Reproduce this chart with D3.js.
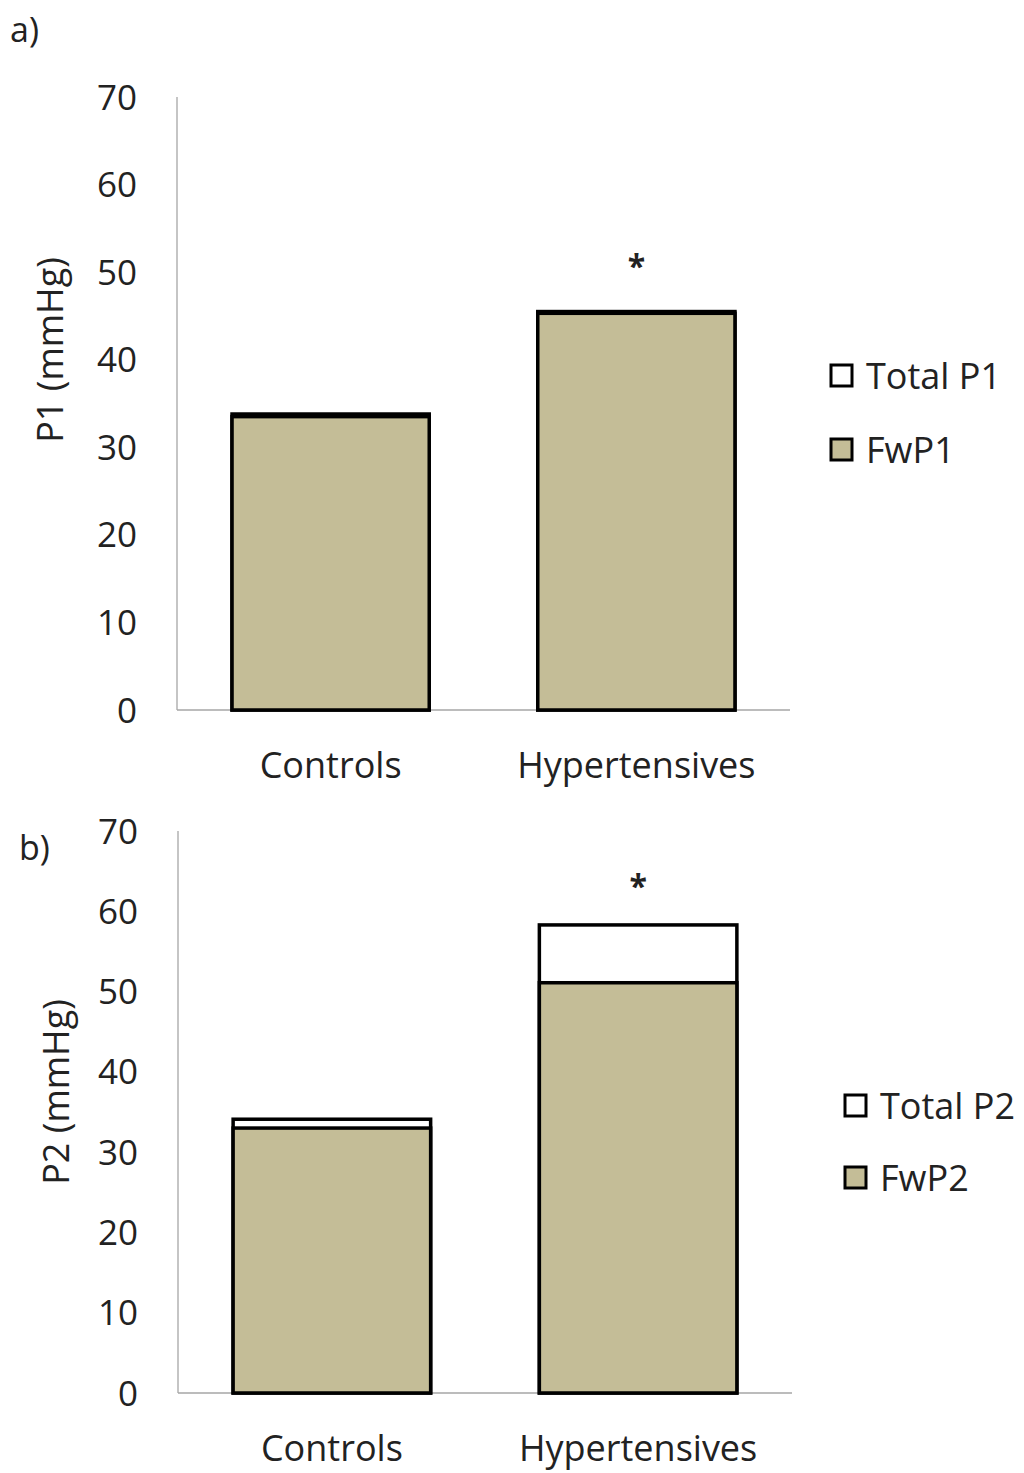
<!DOCTYPE html>
<html>
<head>
<meta charset="utf-8">
<script src="https://cdn.jsdelivr.net/npm/d3@7"></script>
<style>
  html, body { margin: 0; padding: 0; background: #fff; }
  svg text { font-family: "Open Sans", "Noto Sans", sans-serif; fill: #222; }
</style>
</head>
<body>
<svg id="chart" width="1024" height="1473"></svg>
<script>
// Groups and pressures (mmHg)
const groups = ["Controls", "Hypertensives"];
const totalP1 = [33.8, 45.5];
const fwP1 = [33.5, 45.3];
const totalP2 = [34.1, 58.3];
const fwP2 = [33.0, 51.1];
const yTicks = [0, 10, 20, 30, 40, 50, 60, 70];
const sigMarks = ["", "*"];

const svg = d3.select("#chart");
const fillFw = "#c4bd97";

function panel(cfg) {
  const g = svg.append("g");
  const x = d3.scaleBand().domain(groups).range([cfg.x0, cfg.x1]).paddingInner(0.355).paddingOuter(0.18);
  const y = d3.scaleLinear().domain([0, 70]).range([cfg.y0, cfg.y1]);

  // axis lines only: left and bottom
  g.append("line").attr("x1", cfg.x0).attr("x2", cfg.x0).attr("y1", cfg.y0).attr("y2", cfg.y1)
    .attr("stroke", "#a6a6a6").attr("stroke-width", 1.3);
  g.append("line").attr("x1", cfg.x0).attr("x2", cfg.x1).attr("y1", cfg.y0).attr("y2", cfg.y0)
    .attr("stroke", "#a6a6a6").attr("stroke-width", 1.3);

  g.selectAll("text.tick").data(yTicks).join("text")
    .attr("class", "tick")
    .attr("x", cfg.x0 - 40).attr("y", d => y(d))
    .attr("dy", "0.36em").attr("text-anchor", "end")
    .attr("font-size", 35).text(d => d);

  g.selectAll("text.cat").data(groups).join("text")
    .attr("class", "cat")
    .attr("x", d => x(d) + x.bandwidth() / 2).attr("y", cfg.y0 + 68)
    .attr("text-anchor", "middle").attr("font-size", 36).text(d => d);

  // Total drawn first, forward-wave component overlaid on it
  g.selectAll("rect.total").data(cfg.total).join("rect")
    .attr("class", "total")
    .attr("x", (d, i) => x(groups[i])).attr("width", x.bandwidth())
    .attr("y", d => y(d)).attr("height", d => y(0) - y(d))
    .attr("fill", "#fff").attr("stroke", "#000").attr("stroke-width", 3.5);
  g.selectAll("rect.fw").data(cfg.fw).join("rect")
    .attr("class", "fw")
    .attr("x", (d, i) => x(groups[i])).attr("width", x.bandwidth())
    .attr("y", d => y(d)).attr("height", d => y(0) - y(d))
    .attr("fill", fillFw).attr("stroke", "#000").attr("stroke-width", 3.5);

  g.selectAll("text.sig").data(cfg.total).join("text")
    .attr("class", "sig")
    .attr("x", (d, i) => x(groups[i]) + x.bandwidth() / 2)
    .attr("y", d => y(d) - cfg.sigGap)
    .attr("text-anchor", "middle").attr("font-size", 32).attr("font-weight", "bold")
    .text((d, i) => sigMarks[i]);

  // y-axis title
  g.append("text")
    .attr("transform", `translate(${cfg.titleX},${cfg.titleY}) rotate(-90)`)
    .attr("text-anchor", "middle").attr("dy", "0.35em").attr("font-size", 36)
    .text(cfg.title);

  // panel letter
  g.append("text").attr("x", cfg.letterX).attr("y", cfg.letterY)
    .attr("font-size", 34).text(cfg.letter);

  // legend
  const legend = [{ name: cfg.names[0], fill: "#fff" }, { name: cfg.names[1], fill: fillFw }];
  const lg = g.selectAll("g.leg").data(legend).join("g")
    .attr("class", "leg")
    .attr("transform", (d, i) => `translate(${cfg.legX},${cfg.legY + i * cfg.legGap})`);
  lg.append("rect").attr("x", 0).attr("y", -11).attr("width", 21).attr("height", 21)
    .attr("fill", d => d.fill).attr("stroke", "#000").attr("stroke-width", 3);
  lg.append("text").attr("x", 35).attr("y", 0).attr("dy", "0.36em")
    .attr("font-size", 36).text(d => d.name);
}

panel({
  x0: 177, x1: 790, y0: 710, y1: 97,
  total: totalP1, fw: fwP1, title: "P1 (mmHg)", titleX: 50, titleY: 350, sigGap: 34,
  letter: "a)", letterX: 10, letterY: 42,
  names: ["Total P1", "FwP1"], legX: 831, legY: 376, legGap: 74
});

panel({
  x0: 178, x1: 792, y0: 1393, y1: 831,
  total: totalP2, fw: fwP2, title: "P2 (mmHg)", titleX: 56, titleY: 1092, sigGap: 27,
  letter: "b)", letterX: 19, letterY: 860,
  names: ["Total P2", "FwP2"], legX: 845, legY: 1106, legGap: 72
});
</script>
</body>
</html>
